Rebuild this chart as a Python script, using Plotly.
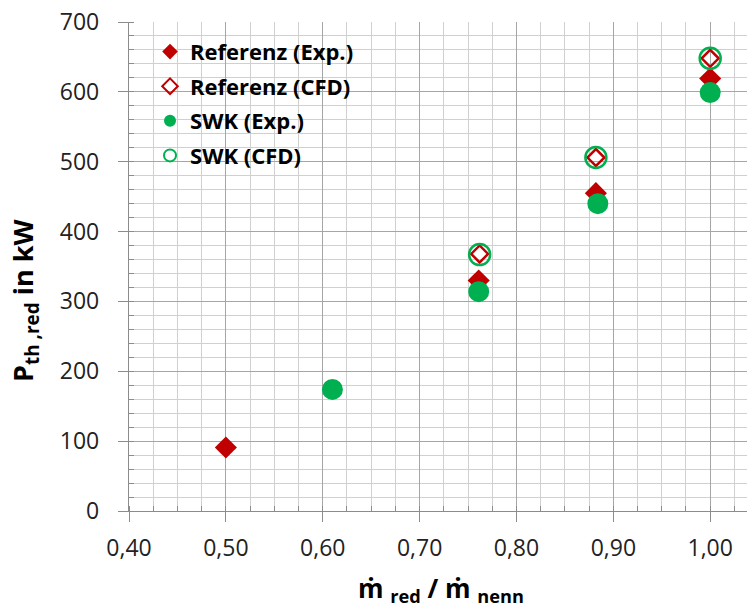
import plotly.graph_objects as go

# Measured thermal power vs. reduced mass flow ratio
ref_exp_x = [0.500, 0.761, 0.882, 1.000]
ref_exp_y = [91, 330, 455, 619]
ref_cfd_x = [0.762, 0.882, 1.000]
ref_cfd_y = [368, 506, 648]
swk_exp_x = [0.610, 0.761, 0.884, 1.000]
swk_exp_y = [174, 314, 440, 599]
swk_cfd_x = [0.762, 0.882, 1.000]
swk_cfd_y = [367, 506, 648]

RED = "#C00000"
GREEN = "#00B050"
FONT = "Open Sans"

fig = go.Figure()
fig.add_trace(go.Scatter(
    x=ref_exp_x, y=ref_exp_y, mode="markers", name="Referenz (Exp.)", legendgroup="g1",
    marker=dict(symbol="diamond", size=17, color=RED, line=dict(width=0))))
fig.add_trace(go.Scatter(
    x=ref_cfd_x, y=ref_cfd_y, mode="markers", name="Referenz (CFD)", legendgroup="g2",
    marker=dict(symbol="diamond-open", size=13, color=RED, line=dict(width=2.5, color=RED))))
fig.add_trace(go.Scatter(
    x=swk_exp_x, y=swk_exp_y, mode="markers", name="SWK (Exp.)", legendgroup="g3",
    marker=dict(symbol="circle", size=21, color=GREEN, line=dict(width=0))))
fig.add_trace(go.Scatter(
    x=swk_cfd_x, y=swk_cfd_y, mode="markers", name="SWK (CFD)", legendgroup="g4",
    marker=dict(symbol="circle-open", size=21, color=GREEN, line=dict(width=2.5, color=GREEN))))

axis_common = dict(
    showline=True, linecolor="#8c8c8c", linewidth=1.3,
    showgrid=True, gridcolor="#a6a6a6", gridwidth=1.3,
    ticks="outside", ticklen=10, tickcolor="#8c8c8c", tickwidth=1.3,
    tickfont=dict(family=FONT, size=23, color="#222222"),
    zeroline=False,
)

fig.update_xaxes(
    range=[0.4, 1.038], dtick=0.1, tick0=0.4, tickformat=".2f",
    minor=dict(dtick=0.025, showgrid=True, gridcolor="#d0d0d0", gridwidth=1.3,
               ticks="inside", ticklen=5, tickcolor="#8c8c8c"),
    ticklabelstandoff=6,
    **axis_common,
)
fig.update_yaxes(
    range=[0, 700], dtick=100, tick0=0,
    minor=dict(dtick=20, showgrid=True, gridcolor="#d0d0d0", gridwidth=1.3,
               ticks="inside", ticklen=5, tickcolor="#8c8c8c"),
    ticklabelstandoff=14,
    **axis_common,
)

# white panel behind the legend, above the grid
fig.add_shape(
    type="rect", xref="paper", yref="paper",
    x0=0.003, x1=0.375, y0=0.685, y1=0.99,
    fillcolor="white", line=dict(width=0), layer="between",
)

fig.add_annotation(
    text="ṁ <sub>red</sub> / ṁ <sub>nenn</sub>",
    xref="paper", yref="paper", x=0.505, y=-0.16,
    xanchor="center", yanchor="middle", showarrow=False,
    font=dict(family=FONT, size=26, color="#000000", weight="bold"),
)
fig.add_annotation(
    text="P<sub>th ,red</sub> in kW",
    xref="paper", yref="paper", x=-0.168, y=0.43,
    xanchor="center", yanchor="middle", showarrow=False, textangle=-90,
    font=dict(family=FONT, size=27, color="#000000", weight="bold"),
)

fig.update_layout(
    width=747, height=612,
    margin=dict(l=129, r=0, t=22, b=101),
    paper_bgcolor="white", plot_bgcolor="white",
    separators=",.",
    showlegend=True,
    legend=dict(
        x=0.034, y=0.982, xanchor="left", yanchor="top",
        bgcolor="rgba(255,255,255,0)", borderwidth=0,
        traceorder="grouped", tracegroupgap=3, itemsizing="constant",
        font=dict(family=FONT, size=22, color="#000000", weight="bold"),
    ),
)

fig.write_html("out.html")
